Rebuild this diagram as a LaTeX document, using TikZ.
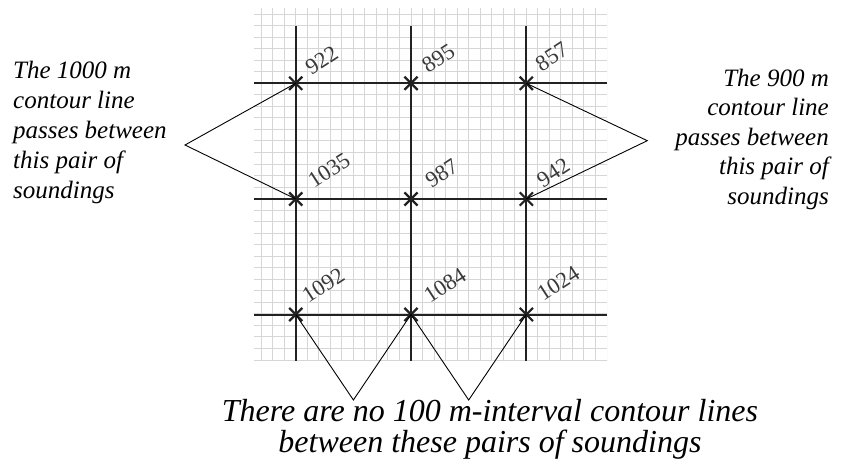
\documentclass[tikz,border=0pt]{standalone}
\usepackage{fontspec}
\setmainfont{Liberation Serif}
\usetikzlibrary{shapes.misc}
\definecolor{gridgray}{HTML}{D6D6D6}
\definecolor{heavy}{HTML}{222222}
\definecolor{numgray}{HTML}{3A3A3A}
\tikzset{
  minor/.style={draw=gridgray, line width=1pt},
  major/.style={draw=heavy, line width=2pt},
  xmark/.style={cross out, draw=heavy, line width=2.2pt, minimum size=11pt, inner sep=0pt},
  conn/.style={draw=black, line width=0.9pt},
  num/.style={text=numgray, font=\rmfamily\fontsize{22.5}{24}\selectfont, rotate=33, inner sep=0pt},
  note/.style={font=\rmfamily\fontsize{25}{30}\selectfont\itshape, inner sep=0pt},
  bignote/.style={font=\rmfamily\fontsize{32}{31}\selectfont\itshape, inner sep=0pt}
}
\begin{document}
\begin{tikzpicture}[x=1pt,y=-1pt]
\useasboundingbox (0,0) rectangle (843,462);
% minor grid
\begin{scope}
\clip (254,8) rectangle (607,360.6);
\foreach \k in {-4,...,27} {
  \draw[minor] ({295.7+\k*11.53},8) -- ({295.7+\k*11.53},361);
}
\foreach \k in {-7,...,24} {
  \draw[minor] (254,{83.3+\k*11.53}) -- (607,{83.3+\k*11.53});
}
\end{scope}
% major lines
\foreach \y in {83.3,199,314.5} { \draw[major] (254,\y) -- (607,\y); }
\foreach \x in {295.7,411,526.3} { \draw[major] (\x,26) -- (\x,361); }
% soundings
\coordinate (p11) at (295.7,83.3);
\coordinate (p12) at (411,83.3);
\coordinate (p13) at (526.3,83.3);
\coordinate (p21) at (295.7,199);
\coordinate (p22) at (411,199);
\coordinate (p23) at (526.3,199);
\coordinate (p31) at (295.7,314.5);
\coordinate (p32) at (411,314.5);
\coordinate (p33) at (526.3,314.5);
\foreach \p in {p11,p12,p13,p21,p22,p23,p31,p32,p33} { \node[xmark] (x\p) at (\p) {}; }
% values
\node[num] (n922) at (321.7,60) {922};
\node[num] (n895) at (438.3,58.3) {895};
\node[num] (n857) at (551.7,56.7) {857};
\node[num] (n1035) at (329,170) {1035};
\node[num] (n987) at (441.7,173.3) {987};
\node[num] (n942) at (553.3,172.7) {942};
\node[num] (n1092) at (323.3,285) {1092};
\node[num] (n1084) at (445,285) {1084};
\node[num] (n1024) at (558.3,283.3) {1024};
% notes
\node[note, align=left, anchor=north west] (tl) at (13,61.3)
  {The 1000 m\\contour line\\passes between\\this pair of\\soundings};
\node[note, font=\rmfamily\fontsize{25}{29.5}\selectfont\itshape, align=right, anchor=north east] (tr) at (829,68.7)
  {The 900 m\\contour line\\passes between\\this pair of\\soundings};
\node[bignote, align=center, anchor=north] (tb) at (490,399)
  {There are no 100 m-interval contour lines\\between these pairs of soundings};
% connectors
\coordinate (al) at (185,145);
\coordinate (ar) at (647.3,140.7);
\coordinate (ab1) at (353.4,400);
\coordinate (ab2) at (468.7,400);
\draw[conn] (p11) -- (al) -- (p21);
\draw[conn] (p13) -- (ar) -- (p23);
\draw[conn] (p31) -- (ab1) -- (p32) -- (ab2) -- (p33);
\end{tikzpicture}
\end{document}
